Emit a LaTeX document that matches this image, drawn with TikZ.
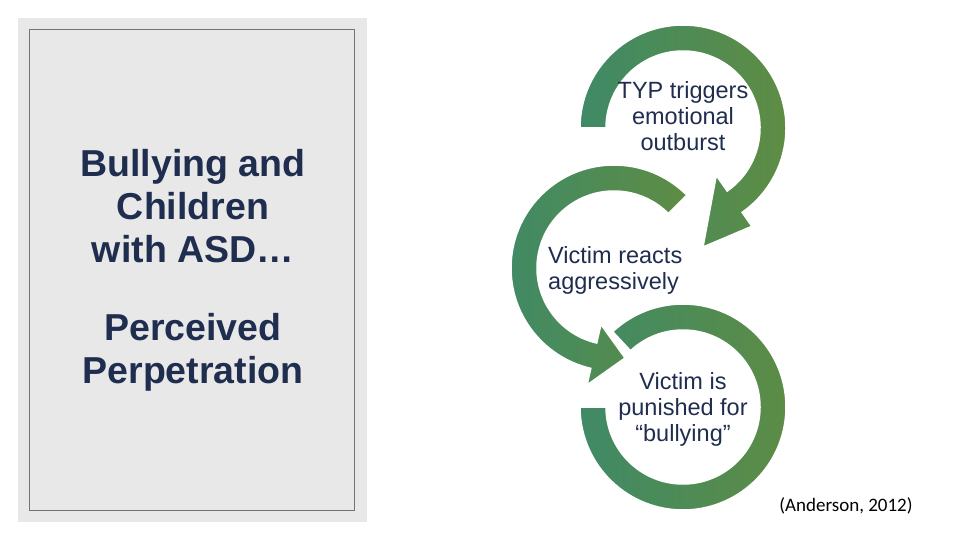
\documentclass[tikz,border=0pt]{standalone}
\usepackage{fontspec}
\setmainfont{Liberation Sans}
\newfontfamily\citefont{Carlito}
\usetikzlibrary{calc}
\definecolor{navy}{HTML}{1F2D4E}
\definecolor{gA}{HTML}{3F8A66}
\definecolor{gB}{HTML}{5E8C44}
\definecolor{panel}{HTML}{E8E8E8}
\tikzset{
  band/.style={left color=gA,right color=gB,draw=white,line width=1.5pt},
  txt/.style={text=navy,font=\fontsize{23.5}{26}\selectfont,align=center,inner sep=0pt},
  ttl/.style={text=navy,font=\fontsize{37.5}{43}\selectfont\bfseries,align=center,inner sep=0pt}
}
\begin{document}
\begin{tikzpicture}[x=1pt,y=-1pt]
\useasboundingbox (0,0) rectangle (960,540);
\fill[panel] (18,18) rectangle (367,522);
\draw[black!55,line width=0.8pt] (29,29) rectangle (354,510);
\node[ttl] (title) at (193,206) {Bullying and\\Children\\with ASD\dots};
\node[ttl] (sub) at (193,352) {Perceived\\Perpetration};
\coordinate (c1) at (683,128);
\coordinate (c2) at (614,268);
\coordinate (c3) at (683,407);
\coordinate (t1) at (703,247);
\coordinate (t2) at (625,358);
% arc 3
\path[band] ($(c3)+(-133:103)$) arc[start angle=-133,end angle=180,radius=103]
  -- ($(c3)+(180:77)$) arc[start angle=180,end angle=-133,radius=77] -- cycle;
% arc 2
\path[band] ($(c2)+(-45:103)$) arc[start angle=-45,end angle=-257,radius=103]
  -- ($(c2)+(-257:120)$) -- (t2) -- ($(c2)+(-257:58)$) -- ($(c2)+(-257:77)$)
  arc[start angle=-257,end angle=-45,radius=77] -- cycle;
% arc 1
\path[band] ($(c1)+(180:103)$) arc[start angle=180,end angle=415,radius=103]
  -- ($(c1)+(415:120)$) -- (t1) -- ($(c1)+(415:58)$) -- ($(c1)+(415:77)$)
  arc[start angle=415,end angle=180,radius=77] -- cycle;
\node[txt] (n1) at (683,116) {TYP triggers\\emotional\\outburst};
\node[txt,align=left,anchor=west] (n2) at (548,270) {Victim reacts\\aggressively};
\node[txt] (n3) at (683,409) {Victim is\\punished for\\“bullying”};
\node[text=black,font=\citefont\fontsize{19}{22}\selectfont,inner sep=0pt] (cite) at (846,506) {(Anderson, 2012)};
\end{tikzpicture}
\end{document}
